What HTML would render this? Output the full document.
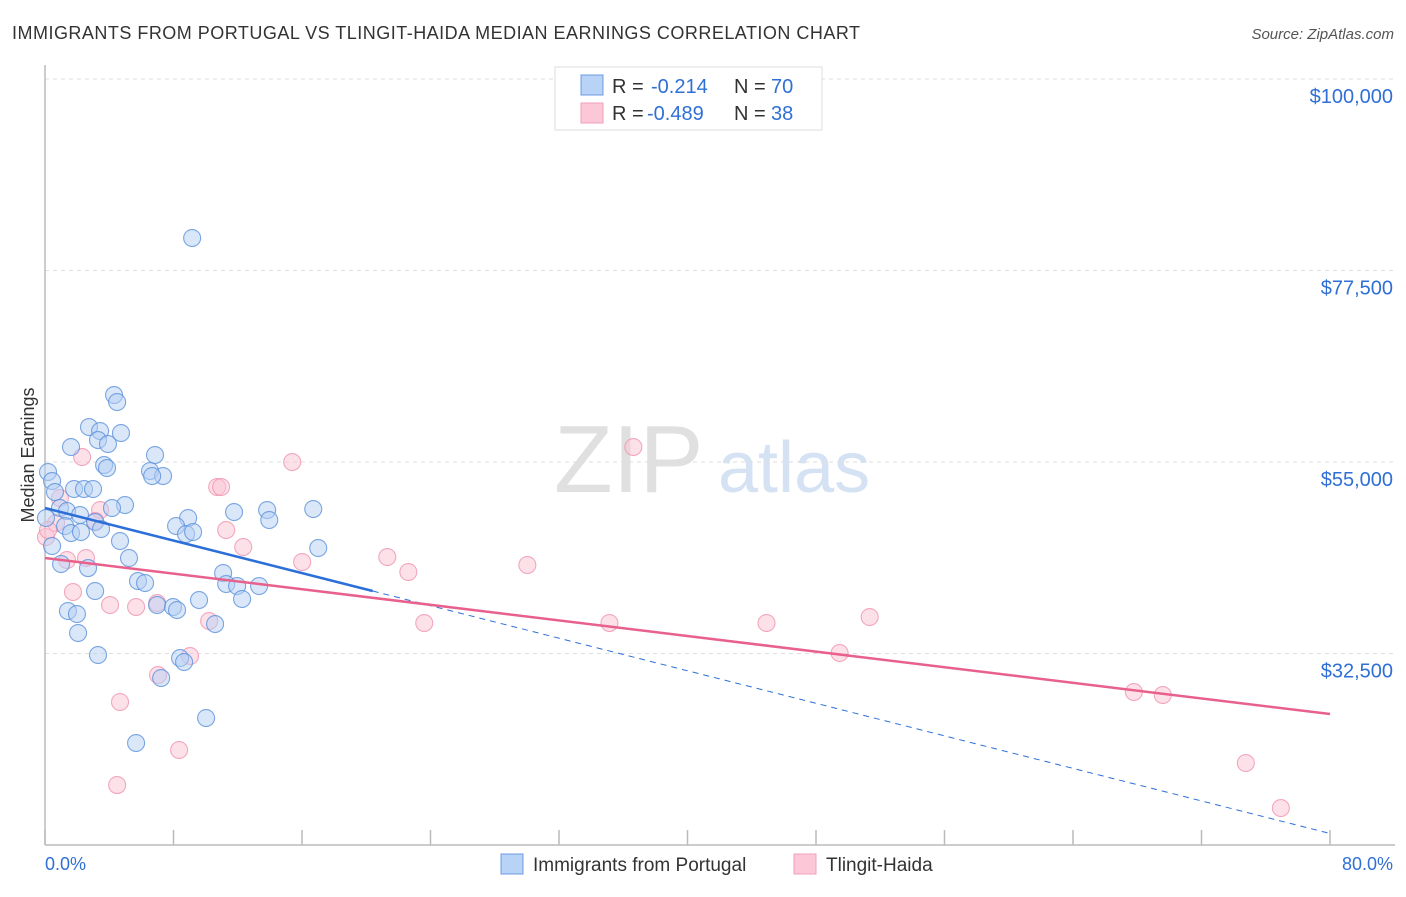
<!DOCTYPE html>
<html><head><meta charset="utf-8"><style>
body{margin:0;background:#fff;font-family:"Liberation Sans",sans-serif;}
svg text{font-family:"Liberation Sans",sans-serif;}
</style></head><body>
<svg id="chart" width="1406" height="892">
<text x="12" y="39" font-size="18" fill="#333" textLength="848">IMMIGRANTS FROM PORTUGAL VS TLINGIT-HAIDA MEDIAN EARNINGS CORRELATION CHART</text>
<text x="1394" y="39" font-size="15" fill="#555" font-style="italic" text-anchor="end">Source: ZipAtlas.com</text>
<text x="34" y="455" font-size="18" fill="#333" text-anchor="middle" transform="rotate(-90 34 455)">Median Earnings</text>
<text x="554" y="492" font-size="96" fill="#e0e0e0" font-family="Liberation Serif">ZIP</text>
<text x="718" y="492" font-size="72" fill="#d4e2f4">atlas</text>
<g id="grid"></g><g id="marks"></g>
<g>
<rect x="555" y="67" width="267" height="63" fill="#fff" stroke="#ddd"/>
<rect x="581" y="75" width="22" height="20" fill="#b8d3f5" stroke="#6a9be0"/>
<rect x="581" y="103" width="22" height="20" fill="#fcc8d8" stroke="#f0a0b8"/>
<text x="612" y="93" font-size="20" fill="#333">R = </text><text x="651" y="93" font-size="20" fill="#2f6fd6">-0.214</text>
<text x="734" y="93" font-size="20" fill="#333">N = </text><text x="771" y="93" font-size="20" fill="#2f6fd6">70</text>
<text x="612" y="120" font-size="20" fill="#333">R = </text><text x="647" y="120" font-size="20" fill="#2f6fd6">-0.489</text>
<text x="734" y="120" font-size="20" fill="#333">N = </text><text x="771" y="120" font-size="20" fill="#2f6fd6">38</text>
</g>
<g>
<rect x="501" y="854" width="22" height="20" fill="#b8d3f5" stroke="#6a9be0"/>
<text x="533" y="871" font-size="19" fill="#333">Immigrants from Portugal</text>
<rect x="794" y="854" width="22" height="20" fill="#fcc8d8" stroke="#f0a0b8"/>
<text x="826" y="871" font-size="19" fill="#333">Tlingit-Haida</text>
</g>
<text x="45" y="870" font-size="18" fill="#2f6fd6">0.0%</text>
<text x="1393" y="870" font-size="18" fill="#2f6fd6" text-anchor="end">80.0%</text>
</svg>
<script>
const yTicks=[100000,77500,55000,32500];
const yTickLabels=["$100,000","$77,500","$55,000","$32,500"];
const xTicks=[0,8,16,24,32,40,48,56,64,72,80];
const blueX=[9.16,4.30,4.49,2.74,3.43,4.73,3.30,3.92,1.62,6.85,3.68,3.86,6.54,7.35,6.67,0.19,0.44,0.62,1.81,2.43,2.99,4.98,4.17,0.93,1.37,2.18,3.12,13.83,11.77,16.70,8.91,8.16,13.96,8.78,9.22,0.06,1.25,1.62,2.24,3.49,4.67,0.44,17.01,5.23,1.00,2.68,11.09,5.79,6.23,11.28,11.96,13.33,3.12,12.27,9.59,6.98,7.97,8.22,1.43,1.99,2.06,10.59,3.30,8.41,8.66,7.23,10.03,5.67];
const blueY=[81317,62870,62048,59110,58640,58405,57583,57113,56760,55820,54645,54293,53940,53353,53353,53823,52765,51473,51825,51825,51825,49945,49593,49593,49240,48770,47948,49358,49123,49475,48418,47478,48183,46538,46773,48418,47478,46655,46773,47125,45715,45128,44893,43718,43013,42540,41955,41015,40780,40663,40428,40428,39840,38900,38783,38195,37960,37608,37490,37138,34905,35963,32320,31968,31498,29618,24918,21980];
const pinkX=[2.31,15.39,36.63,10.72,10.96,0.93,3.43,3.12,0.69,0.06,11.28,12.34,1.37,2.55,16.01,21.31,22.62,30.03,1.74,4.05,5.67,6.98,10.22,23.61,35.14,44.92,51.34,49.47,9.03,7.04,4.67,8.35,4.49,67.79,69.59,74.76,76.94,0.19];
const pinkY=[55585,54998,56760,52060,52060,50768,49358,48065,47830,46185,47008,45010,43483,43718,43248,43835,42073,42895,39723,38195,37960,38430,36315,36080,36080,36080,36785,32555,32203,29970,26798,21158,17045,27973,27620,19630,14343,47008];
const blueTrend=[49593,11353];
const pinkTrend=[43718,25388];
const X0=45,X1=1330,Y0=845,Ymin=10000,Ymax=100000,YTOP=79;
const sx=v=>X0+(v-0)/(80-0)*(X1-X0);
const sy=v=>Y0-(v-Ymin)/(Ymax-Ymin)*(Y0-YTOP);
const NS="http://www.w3.org/2000/svg";
function mk(tag,attrs,parent){const e=document.createElementNS(NS,tag);for(const k in attrs)e.setAttribute(k,attrs[k]);parent.appendChild(e);return e;}
const grid=document.getElementById('grid'),marks=document.getElementById('marks');
yTicks.forEach((t,i)=>{
  const l=mk('line',{x1:X0,x2:1395,y1:sy(t),y2:sy(t),stroke:'#ddd','stroke-dasharray':'4,4'},grid);
  
  
  const tx=mk('text',{x:1393,y:sy(t)+24,'font-size':20,fill:'#2f6fd6','text-anchor':'end'},grid);
  tx.textContent=yTickLabels[i];
  
  
});
const ax=mk('line',{x1:X0,x2:X0,y1:65,y2:Y0,stroke:'#bbb','stroke-width':1.5},grid);


const bx=mk('line',{x1:X0,x2:1395,y1:Y0,y2:Y0,stroke:'#bbb','stroke-width':1.5},grid);


xTicks.forEach(t=>{
  const l=mk('line',{x1:sx(t),x2:sx(t),y1:Y0-15,y2:Y0,stroke:'#bbb','stroke-width':1.5},grid);
  
  
});
function dots(xs,ys,fill,stroke,name){
  xs.forEach((x,i)=>{
    const c=mk('circle',{cx:sx(x),cy:sy(ys[i]),r:8.5,fill:fill,'fill-opacity':0.5,stroke:stroke,'stroke-opacity':0.8,'stroke-width':1.1},marks);
    
    
  });
}
dots(pinkX,pinkY,'#fbc3d3','#ef94b0','tlingit-point');
dots(blueX,blueY,'#b5d0f3','#5a91dc','portugal-point');
const bxEnd=20.4;
const byEnd=blueTrend[0]+(blueTrend[1]-blueTrend[0])*bxEnd/80;
const b1=mk('line',{x1:sx(0),y1:sy(blueTrend[0]),x2:sx(bxEnd),y2:sy(byEnd),stroke:'#2d6fd8','stroke-width':2.5},marks);


const b2=mk('line',{x1:sx(bxEnd),y1:sy(byEnd),x2:sx(80),y2:sy(blueTrend[1]),stroke:'#2d6fd8','stroke-width':1,'stroke-dasharray':'6,5'},marks);


const p1=mk('line',{x1:sx(0),y1:sy(pinkTrend[0]),x2:sx(80),y2:sy(pinkTrend[1]),stroke:'#e8608c','stroke-width':2.5},marks);


</script>
</body></html>
